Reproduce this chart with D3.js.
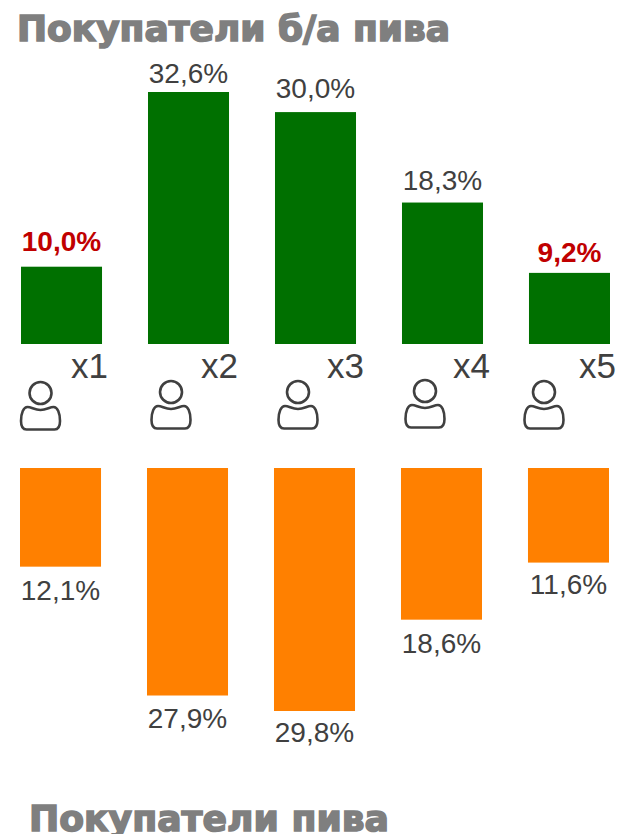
<!DOCTYPE html>
<html>
<head>
<meta charset="utf-8">
<script src="https://cdn.jsdelivr.net/npm/d3@7"></script>
<style>
html, body { margin: 0; padding: 0; background: #fff; }
svg { display: block; }
text { font-family: "Liberation Sans", Arial, sans-serif; }
</style>
</head>
<body>
<div class="chart"></div>
<script>
var categories = ["x1", "x2", "x3", "x4", "x5"];
var nonAlcValues = [10.0, 32.6, 30.0, 18.3, 9.2];
var beerValues = [12.1, 27.9, 29.8, 18.6, 11.6];
var nonAlcLabels = ["10,0%", "32,6%", "30,0%", "18,3%", "9,2%"];
var beerLabels = ["12,1%", "27,9%", "29,8%", "18,6%", "11,6%"];
var highlighted = ["x1", "x5"];

var svg = d3.select(".chart").append("svg").attr("width", 618).attr("height", 834);

var x = d3.scaleBand().domain(categories).range([21, 610]).paddingInner(0.362);
var yTop = d3.scaleLinear().domain([0, 32.6]).range([344, 92]);
var yBottom = d3.scaleLinear().domain([0, 29.8]).range([468, 711]);

// titles
svg.append("text").attr("x", 17).attr("y", 41).text("Покупатели б/а пива")
  .attr("textLength", 433).attr("lengthAdjust", "spacingAndGlyphs")
  .style("font-family", "'DejaVu Sans', sans-serif")
  .style("font-size", "35px").style("font-weight", "bold").style("fill", "#7f7f7f")
  .style("stroke", "#7f7f7f").style("stroke-width", "1.6px");
svg.append("text").attr("x", 29).attr("y", 831).text("Покупатели пива")
  .attr("textLength", 360).attr("lengthAdjust", "spacingAndGlyphs")
  .style("font-family", "'DejaVu Sans', sans-serif")
  .style("font-size", "36px").style("font-weight", "bold").style("fill", "#7f7f7f")
  .style("stroke", "#7f7f7f").style("stroke-width", "1.6px");

// green bars
svg.selectAll(".top").data(categories).enter().append("rect")
  .attr("class", "top")
  .attr("x", d => x(d))
  .attr("y", (d, i) => yTop(nonAlcValues[i]))
  .attr("width", x.bandwidth())
  .attr("height", (d, i) => yTop(0) - yTop(nonAlcValues[i]))
  .attr("fill", "#007000");

var topGap = [16, 9, 14, 13, 11];
svg.selectAll(".topLabel").data(categories).enter().append("text")
  .attr("class", "topLabel")
  .attr("x", d => x(d) + x.bandwidth() / 2)
  .attr("y", (d, i) => yTop(nonAlcValues[i]) - topGap[i])
  .attr("text-anchor", "middle")
  .text((d, i) => nonAlcLabels[i])
  .style("font-size", "28px")
  .style("font-weight", d => highlighted.includes(d) ? "bold" : "normal")
  .style("fill", d => highlighted.includes(d) ? "#c00000" : "#404040");

// orange bars, a pixel left of the green ones
svg.selectAll(".bottom").data(categories).enter().append("rect")
  .attr("class", "bottom")
  .attr("x", d => x(d) - 1)
  .attr("y", yBottom(0))
  .attr("width", x.bandwidth())
  .attr("height", (d, i) => yBottom(beerValues[i]) - yBottom(0))
  .attr("fill", "#ff8000");

var bottomGap = [33, 32, 31, 33, 31];
svg.selectAll(".bottomLabel").data(categories).enter().append("text")
  .attr("class", "bottomLabel")
  .attr("x", d => x(d) - 1 + x.bandwidth() / 2)
  .attr("y", (d, i) => yBottom(beerValues[i]) + bottomGap[i])
  .attr("text-anchor", "middle")
  .text((d, i) => beerLabels[i])
  .style("font-size", "28px")
  .style("fill", "#404040");

// x1..x5 captions
var captionShift = [50, 53, 52, 51, 50];
svg.selectAll(".caption").data(categories).enter().append("text")
  .attr("class", "caption")
  .attr("x", (d, i) => x(d) + captionShift[i])
  .attr("y", 378)
  .text(d => d)
  .style("font-size", "35px")
  .style("fill", "#404040");

// person icons
var iconShift = [-21, -17.5, -17.5, -17.5, -25.5];
var iconY = [393, 392, 392, 391, 392];
var icon = svg.selectAll(".icon").data(categories).enter().append("g")
  .attr("class", "icon")
  .attr("transform", (d, i) => "translate(" + (x(d) + x.bandwidth() / 2 + iconShift[i]) + "," + iconY[i] + ")")
  .attr("fill", "none")
  .attr("stroke", "#404040")
  .attr("stroke-width", 2.6);
icon.append("circle").attr("cx", 0).attr("cy", 0).attr("r", 11);
icon.append("path").attr("d", "M-13,14 C-9,14 -6,17 0,17 C6,17 9,14 13,14 C17,14 19.5,20 19.5,28 C19.5,34 18,36.5 14,36.5 L-14,36.5 C-18,36.5 -19.5,34 -19.5,28 C-19.5,20 -17,14 -13,14 Z");
</script>
</body>
</html>
